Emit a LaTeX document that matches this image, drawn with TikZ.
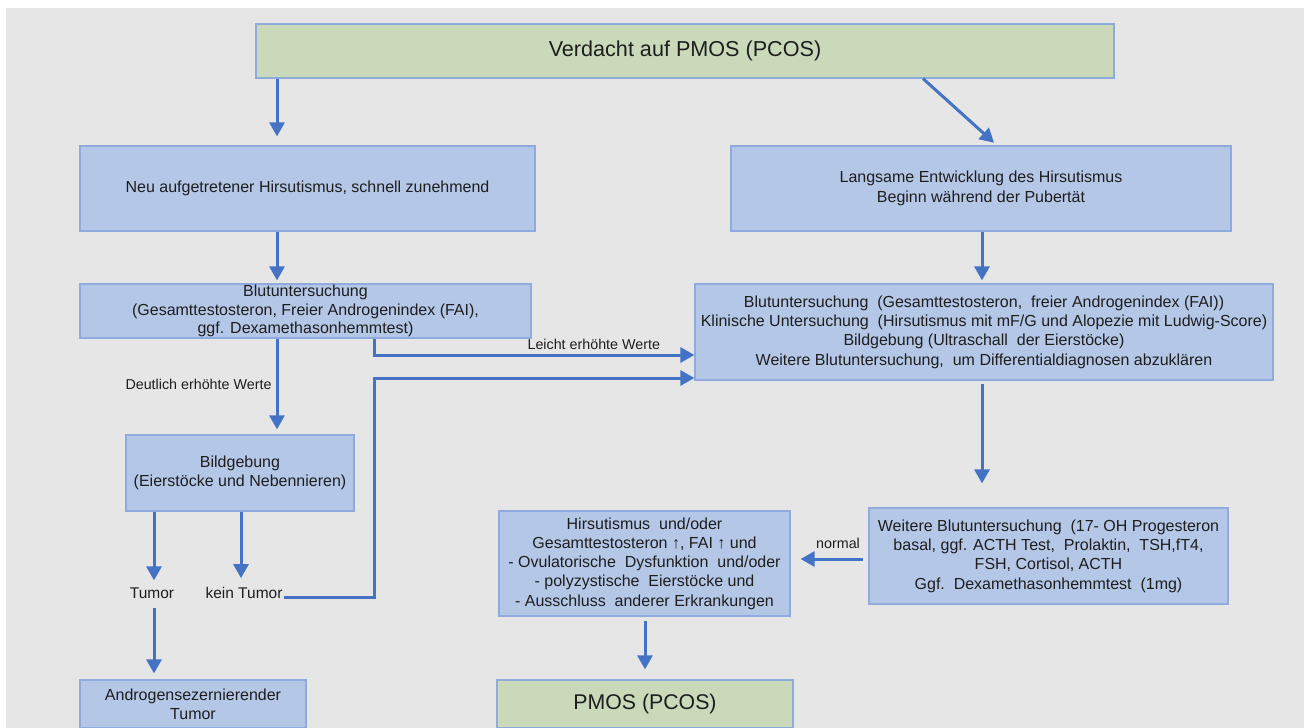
\documentclass[tikz,border=0pt]{standalone}
\usepackage{fontspec}
\setmainfont{Liberation Sans}
\usetikzlibrary{arrows.meta,calc}
\definecolor{bg}{RGB}{230,230,230}
\definecolor{boxblue}{RGB}{180,199,231}
\definecolor{boxgreen}{RGB}{201,217,185}
\definecolor{edgeblue}{RGB}{143,170,220}
\definecolor{arrowblue}{RGB}{68,114,196}
\definecolor{txt}{RGB}{30,30,30}
\begin{document}
\begin{tikzpicture}[x=1pt,y=-1pt,
  box/.style={draw=edgeblue, line width=1.2pt, fill=boxblue, text=txt, align=center,
    inner sep=0pt, font=\fontsize{16}{19.3}\selectfont},
  greenbox/.style={box, fill=boxgreen},
  arr/.style={draw=arrowblue, line width=3pt, -{Triangle[width=15pt,length=14pt]}},
  lbl/.style={text=txt, font=\fontsize{14.3}{17}\selectfont, inner sep=0pt},
  plain/.style={text=txt, font=\fontsize{15.5}{19}\selectfont, inner sep=0pt},
]
\useasboundingbox (0,0) rectangle (1304,728);
\clip (0,0) rectangle (1304,728);
\fill[bg] (6,8) rectangle (1304,728);

% boxes
\node[greenbox, minimum width=858pt, minimum height=54pt, font=\fontsize{21.6}{25}\selectfont] (top) at (685,51) {Verdacht auf PMOS (PCOS)};
\node[box, minimum width=455pt, minimum height=85pt] (neu) at (307.5,188.5) {Neu aufgetretener Hirsutismus, schnell zunehmend};
\node[box, minimum width=500pt, minimum height=85pt] (lang) at (981,188.5) {Langsame Entwicklung des Hirsutismus\\Beginn während der Pubertät};
\node[box, minimum width=451pt, minimum height=54pt, font=\fontsize{16}{18.5}\selectfont] (blutL) at (305.5,311) {Blutuntersuchung\\(Gesamttestosteron, Freier Androgenindex (FAI),\\ggf. Dexamethasonhemmtest)};
\node[box, minimum width=578pt, minimum height=96pt] (blutR) at (984,332) {Blutuntersuchung\ \ (Gesamttestosteron,\ \ freier Androgenindex (FAI))\\Klinische Untersuchung\ \ (Hirsutismus mit mF/G und Alopezie mit Ludwig-Score)\\Bildgebung (Ultraschall\ \ der Eierstöcke)\\Weitere Blutuntersuchung,\ \ um Differentialdiagnosen abzuklären};
\node[box, minimum width=228pt, minimum height=76pt] (bild) at (240,473) {Bildgebung\\(Eierstöcke und Nebennieren)};
\node[box, minimum width=291pt, minimum height=105pt] (hirs) at (644.5,563.5) {Hirsutismus\ \ und/oder\\Gesamttestosteron ↑, FAI ↑ und\\- Ovulatorische\ \ Dysfunktion\ \ und/oder\\- polyzystische\ \ Eierstöcke und\\- Ausschluss\ \ anderer Erkrankungen};
\node[box, minimum width=359pt, minimum height=96pt] (weit) at (1048.5,556) {Weitere Blutuntersuchung\ \ (17- OH Progesteron\\basal, ggf. ACTH Test,\ \ Prolaktin,\ \ TSH,fT4,\\FSH, Cortisol, ACTH\\Ggf.\ \ Dexamethasonhemmtest\ \ (1mg)};
\node[box, minimum width=226pt, minimum height=48pt] (andro) at (193,704) {Androgensezernierender\\Tumor};
\node[greenbox, minimum width=296pt, minimum height=48pt, font=\fontsize{21.3}{25}\selectfont] (pmos) at (645,704) {PMOS (PCOS)};

% free labels
\node[plain] (tumor) at (152,593) {Tumor};
\node[plain] (kein) at (244,593) {kein Tumor};

% connectors
\draw[arr, shorten >=9pt] (top.south -| 277,0) -- (neu.north -| 277,0);
\draw[arr, shorten >=4pt] (top.south -| 923,0) -- (lang.north -| 997,0);
\draw[arr, shorten >=3pt] (neu.south -| 277,0) -- (blutL.north -| 277,0);
\draw[arr, shorten >=3pt] (lang.south -| 982,0) -- (blutR.north -| 982,0);
\draw[arr, shorten >=5pt] (blutL.south -| 277,0) -- node[lbl, left=4pt, pos=0.48] {Deutlich erhöhte Werte} (bild.north -| 277,0);
\draw[arr] (blutL.south -| 374,0) |- node[lbl, above=4pt, pos=0.843] {Leicht erhöhte Werte} (blutR.west |- 0,355);
\draw[arr] ([shift={(1,-1)}]kein.base east) -| (374,378) -- (blutR.west |- 0,378);
\draw[arr, shorten >=7pt] (bild.south -| 154,0) -- (tumor.north -| 154,0);
\draw[arr, shorten >=9pt] (bild.south -| 241,0) -- (kein.north -| 241,0);
\draw[arr, shorten <=9pt, shorten >=6pt] (tumor.south -| 154,0) -- (andro.north -| 154,0);
\draw[arr, shorten <=3pt, shorten >=24pt] (blutR.south -| 982,0) -- (weit.north -| 982,0);
\draw[arr, shorten <=5pt, shorten >=10pt] (weit.west |- 0,559) -- node[lbl, above=9pt, pos=0.39] {normal} (hirs.east |- 0,559);
\draw[arr, shorten <=4pt, shorten >=10pt] (hirs.south -| 645,0) -- (pmos.north -| 645,0);
\end{tikzpicture}
\end{document}
